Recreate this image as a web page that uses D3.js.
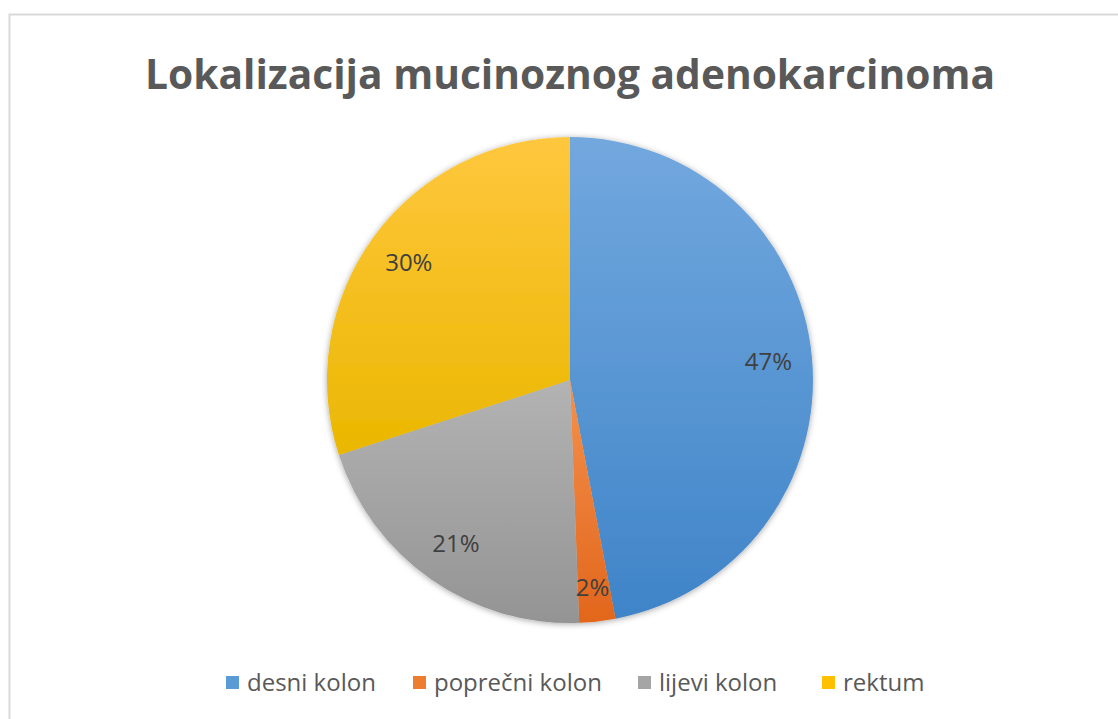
<!DOCTYPE html>
<html>
<head>
<meta charset="utf-8">
<script src="https://cdn.jsdelivr.net/npm/d3@7"></script>
<style>
  html, body { margin: 0; padding: 0; background: #fff; }
  svg { display: block; }
</style>
</head>
<body>
<svg id="chart" width="1118" height="719"></svg>
<script>
// ---- data ----
const title = "Lokalizacija mucinoznog adenokarcinoma";
const categories = ["desni kolon", "poprečni kolon", "lijevi kolon", "rektum"];
const values = [47.0, 2.4, 20.6, 30.0];
const labels = ["47%", "2%", "21%", "30%"];
const colorsTop = ["#72a8de", "#f4914c", "#b3b3b3", "#ffc73e"];
const colorsBottom = ["#3f84c8", "#e2661c", "#949494", "#eab700"];
const colorsLegend = ["#5b9bd5", "#ed7d31", "#a5a5a5", "#ffc000"];

const svg = d3.select("#chart");
const W = 1118, H = 719;

// border
svg.append("rect")
  .attr("x", 9.5).attr("y", 14.5)
  .attr("width", W + 20).attr("height", H + 20)
  .attr("fill", "#fff").attr("stroke", "#d9d9d9").attr("stroke-width", 2);

const defs = svg.append("defs");
categories.forEach((c, i) => {
  const g = defs.append("linearGradient")
    .attr("id", "grad" + i)
    .attr("x1", 0).attr("y1", 0).attr("x2", 0).attr("y2", 1);
  g.append("stop").attr("offset", "0%").attr("stop-color", colorsTop[i]);
  g.append("stop").attr("offset", "100%").attr("stop-color", colorsBottom[i]);
});
const f = defs.append("filter").attr("id", "shadow").attr("x", "-10%").attr("y", "-10%").attr("width", "120%").attr("height", "120%");
f.append("feDropShadow").attr("dx", 0).attr("dy", 1).attr("stdDeviation", 3).attr("flood-color", "#000").attr("flood-opacity", 0.35);

const font = "'Open Sans', 'DejaVu Sans', sans-serif";

// title
svg.append("text")
  .attr("x", 570).attr("y", 89)
  .attr("text-anchor", "middle")
  .attr("font-family", font)
  .attr("font-weight", "bold")
  .attr("font-size", 42)
  .attr("fill", "#595959")
  .attr("textLength", 850)
  .attr("lengthAdjust", "spacingAndGlyphs")
  .text(title);

// pie
const cx = 570, cy = 380, R = 243;
const pie = d3.pie().sort(null).value(d => d)(values);
const arc = d3.arc().innerRadius(0).outerRadius(R);
const labelArc = d3.arc().innerRadius(R * 0.82).outerRadius(R * 0.82);

const g = svg.append("g").attr("transform", `translate(${cx},${cy})`);
g.append("g").attr("filter", "url(#shadow)")
  .selectAll("path").data(pie).join("path")
  .attr("d", arc)
  .attr("fill", (d, i) => `url(#grad${i})`);

g.selectAll("text.lbl").data(pie).join("text")
  .attr("class", "lbl")
  .attr("transform", (d, i) => {
    const p = labelArc.centroid(d);
    if (i === 1) p[1] += 10;
    return `translate(${p[0]},${p[1]})`;
  })
  .attr("text-anchor", "middle")
  .attr("dy", "0.35em")
  .attr("font-family", font)
  .attr("font-size", 24)
  .attr("fill", "#404040")
  .text((d, i) => labels[i]);

// legend
const legendX = [226, 413, 638, 822];
const leg = svg.append("g");
categories.forEach((c, i) => {
  leg.append("rect")
    .attr("x", legendX[i]).attr("y", 676)
    .attr("width", 13).attr("height", 13)
    .attr("fill", colorsLegend[i]);
  leg.append("text")
    .attr("x", legendX[i] + 21).attr("y", 691)
    .attr("font-family", font)
    .attr("font-size", 24)
    .attr("fill", "#595959")
    .text(c);
});
</script>
</body>
</html>
